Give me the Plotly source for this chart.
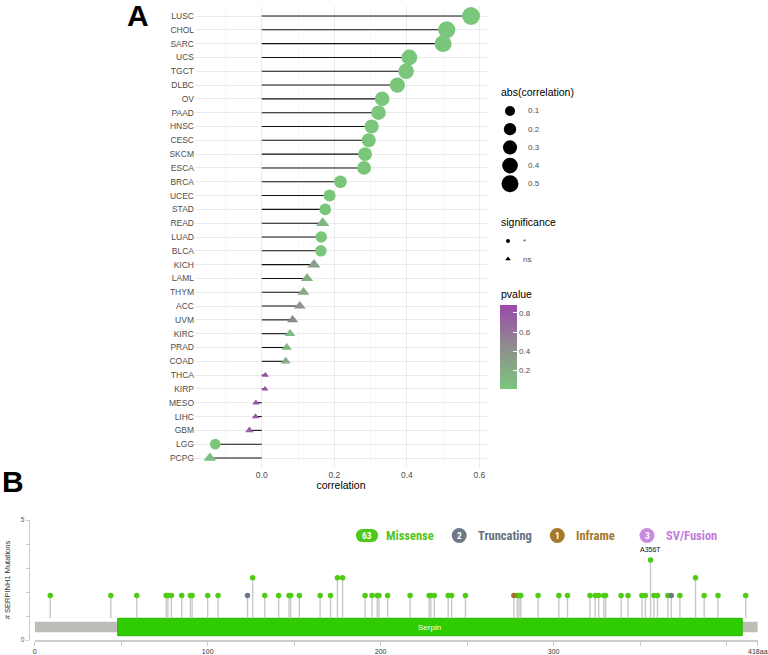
import plotly.graph_objects as go
import numpy as np

W, H = 768, 655

# ---------------- Panel A data ----------------
cancers = ["LUSC", "CHOL", "SARC", "UCS", "TGCT", "DLBC", "OV", "PAAD", "HNSC", "CESC",
           "SKCM", "ESCA", "BRCA", "UCEC", "STAD", "READ", "LUAD", "BLCA", "KICH", "LAML",
           "THYM", "ACC", "UVM", "KIRC", "PRAD", "COAD", "THCA", "KIRP", "MESO", "LIHC",
           "GBM", "LGG", "PCPG"]
correlation = [0.577, 0.510, 0.500, 0.407, 0.398, 0.374, 0.332, 0.322, 0.303, 0.295,
               0.285, 0.282, 0.217, 0.187, 0.175, 0.168, 0.164, 0.163, 0.144, 0.125,
               0.115, 0.105, 0.085, 0.078, 0.069, 0.066, 0.010, 0.009, -0.016, -0.017,
               -0.034, -0.128, -0.143]
pvalue = [0.000, 0.002, 0.000, 0.002, 0.000, 0.010, 0.000, 0.000, 0.000, 0.000,
          0.000, 0.000, 0.000, 0.010, 0.000, 0.130, 0.000, 0.001, 0.300, 0.150,
          0.220, 0.370, 0.500, 0.090, 0.120, 0.200, 0.880, 0.860, 0.820, 0.800,
          0.700, 0.003, 0.060]
significance = ["*", "*", "*", "*", "*", "*", "*", "*", "*", "*",
                "*", "*", "*", "*", "*", "ns", "*", "*", "ns", "ns",
                "ns", "ns", "ns", "ns", "ns", "ns", "ns", "ns", "ns", "ns",
                "ns", "*", "ns"]
size_legend_values = [0.1, 0.2, 0.3, 0.4, 0.5]
size_legend_labels = ["0.1", "0.2", "0.3", "0.4", "0.5"]
sig_legend_labels = ["*", "ns"]
x_ticks_A = [0.0, 0.2, 0.4, 0.6]
x_ticklabels_A = ["0.0", "0.2", "0.4", "0.6"]
pvalue_ticks = [0.2, 0.4, 0.6, 0.8]

# ---------------- Panel B data ----------------
protein_length = 418
domain_name = "Serpin"
domain_start, domain_end = 48, 409
missense_pos = [9, 44, 59, 76, 77, 79, 85, 90, 91, 100, 106, 126, 133, 141, 147, 148, 153,
                165, 171, 175, 178, 191, 195, 198, 199, 204, 217, 228, 229, 231, 239, 241,
                249, 279, 280, 281, 291, 303, 308, 321, 324, 326, 329, 330, 339, 343, 351,
                353, 356, 358, 360, 366, 373, 382, 387, 395, 411]
missense_cnt = [1, 1, 1, 1, 1, 1, 1, 1, 1, 1, 1, 2, 1, 1, 1, 1, 1,
                1, 1, 2, 2, 1, 1, 1, 1, 1, 1, 1, 1, 1, 1, 1,
                1, 1, 1, 1, 1, 1, 1, 1, 1, 1, 1, 1, 1, 1, 1,
                1, 3, 1, 1, 1, 1, 2, 1, 1, 1]
truncating_pos = [123, 368]
truncating_cnt = [1, 1]
inframe_pos = [277]
inframe_cnt = [1]
hotspot_label = "A356T"
hotspot_pos, hotspot_cnt = 356, 3
legend_types = ["Missense", "Truncating", "Inframe", "SV/Fusion"]
legend_counts = [63, 2, 1, 3]
legend_fill = ["#4FC81C", "#6E7987", "#A67A2C", "#C98BDF"]
legend_text_col = ["#53C41D", "#66717F", "#A4772A", "#C27CDB"]
x_ticks_B = [0, 50, 100, 150, 200, 250, 300, 350, 400, 418]
x_ticklabels_B = ["0", "", "100", "", "200", "", "300", "", "", "418aa"]
y_ticks_B = [0, 1, 2, 3, 4, 5]
y_ticklabels_B = ["0", "", "", "", "", "5"]

FONT = "Liberation Sans, Arial, sans-serif"
NARROW = "Liberation Sans Narrow, Arial Narrow, Roboto Condensed, sans-serif"


def fx(px):
    return px / W


def fy(py):
    return 1 - py / H


def msize(v):
    return 4.3 + 17.9 * np.sqrt(abs(v))


CSCALE = [[0.0, "#7AC77B"], [0.5, "#8F8D8F"], [1.0, "#9B4AAA"]]
CMIN, CMAX = 0.0, 0.88

fig = go.Figure()

# ---- Panel A: lollipop stems
lx, ly = [], []
for c, v in zip(cancers, correlation):
    lx += [0, v, None]
    ly += [c, c, None]
fig.add_trace(go.Scatter(x=lx, y=ly, mode="lines", line=dict(color="#111111", width=1.1),
                         hoverinfo="skip", xaxis="x", yaxis="y"))

for sig, sym, show in [("*", "circle", True), ("ns", "triangle-up", False)]:
    idx = [i for i, s in enumerate(significance) if s == sig]
    fig.add_trace(go.Scatter(
        x=[correlation[i] for i in idx], y=[cancers[i] for i in idx], mode="markers",
        marker=dict(symbol=sym, size=[msize(correlation[i]) for i in idx],
                    color=[pvalue[i] for i in idx], colorscale=CSCALE, cmin=CMIN, cmax=CMAX,
                    line=dict(width=0), opacity=1,
                    showscale=show,
                    colorbar=dict(x=fx(500), xanchor="left", y=fy(389.3), yanchor="bottom",
                                  len=84.3 / H, lenmode="fraction", thickness=17,
                                  thicknessmode="pixels", outlinewidth=0, xpad=0, ypad=0,
                                  ticks="inside", ticklen=4, tickcolor="white",
                                  tickvals=pvalue_ticks, tickfont=dict(size=8, color="#4D4D4D", family=FONT))),
        xaxis="x", yaxis="y", hoverinfo="skip"))

# ---- Panel A legend (size & shape) on helper axes
fig.add_trace(go.Scatter(x=[510] * len(size_legend_values),
                         y=[111 + 18.2 * i for i in range(len(size_legend_values))],
                         mode="markers",
                         marker=dict(size=[msize(v) for v in size_legend_values], color="#000000",
                                     opacity=1, line=dict(width=0)),
                         xaxis="x3", yaxis="y3", hoverinfo="skip"))
fig.add_trace(go.Scatter(x=[508, 508], y=[241, 259], mode="markers",
                         marker=dict(symbol=["circle", "triangle-up"], size=[4, 5], color="#000000",
                                     opacity=1, line=dict(width=0)),
                         xaxis="x3", yaxis="y3", hoverinfo="skip"))

annotations = []
for i, lab in enumerate(size_legend_labels):
    annotations.append(dict(x=526, y=111 + 18.2 * i, xref="x3", yref="y3", text=lab, showarrow=False,
                            xanchor="left", yanchor="middle", font=dict(size=8, color="#4D4D4D", family=FONT)))
for i, lab in enumerate(sig_legend_labels):
    annotations.append(dict(x=521, y=241 + 18 * i, xref="x3", yref="y3", text=lab, showarrow=False,
                            xanchor="left", yanchor="middle", font=dict(size=8, color="#4D4D4D", family=FONT)))
for txt, yy in [("abs(correlation)", 92), ("significance", 222), ("pvalue", 294)]:
    annotations.append(dict(x=499, y=yy, xref="x3", yref="y3", text=txt, showarrow=False,
                            xanchor="left", yanchor="middle", font=dict(size=10.5, color="black", family=FONT)))

# ---- Panel B: stems and heads
DOM_TOP, DOM_BOT = -0.281, -1.258
BB_TOP, BB_BOT = -0.472, -1.067
sx, sy = [], []
for p, c in zip(missense_pos + truncating_pos + inframe_pos,
                missense_cnt + truncating_cnt + inframe_cnt):
    sx += [p, p, None]
    sy += [DOM_TOP, c, None]
fig.add_trace(go.Scatter(x=sx, y=sy, mode="lines", line=dict(color="#C8C8C8", width=1.4),
                         xaxis="x2", yaxis="y2", hoverinfo="skip"))
for pos, cnt, col in [(missense_pos, missense_cnt, "#4FCB12"),
                      (truncating_pos, truncating_cnt, "#6E7987"),
                      (inframe_pos, inframe_cnt, "#A0702A")]:
    fig.add_trace(go.Scatter(x=pos, y=cnt, mode="markers",
                             marker=dict(size=5.5, color=col, line=dict(width=0)),
                             xaxis="x2", yaxis="y2", hoverinfo="skip", cliponaxis=False))
# dummy trace to render the count axis
fig.add_trace(go.Scatter(x=[0], y=[0], mode="markers", marker=dict(opacity=0),
                         xaxis="x2", yaxis="y4", hoverinfo="skip"))

shapes = [
    dict(type="rect", xref="x2", yref="y2", x0=0, x1=protein_length, y0=BB_BOT, y1=BB_TOP,
         fillcolor="#BDBDB7", line=dict(width=0), layer="below"),
    dict(type="rect", xref="x2", yref="y2", x0=domain_start, x1=domain_end, y0=DOM_BOT, y1=DOM_TOP,
         fillcolor="#2ECC00", line=dict(width=1, color="#28B000"), layer="below"),
]
annotations.append(dict(x=(domain_start + domain_end) / 2, y=(DOM_TOP + DOM_BOT) / 2, xref="x2",
                        yref="y2", text=domain_name, showarrow=False, xanchor="center", yanchor="middle",
                        font=dict(size=8, color="white", family=FONT)))
annotations.append(dict(x=hotspot_pos, y=hotspot_cnt, xref="x2", yref="y2", text=hotspot_label,
                        showarrow=False, yshift=10, xanchor="center", yanchor="middle",
                        font=dict(size=7, color="#111", family=FONT)))

# ---- Panel B legend (pills + labels)
centers = [367, 459.2, 557.3, 647]
label_x = [383.5, 475.5, 573.5, 663.5]
cy = 535.5
for i, (t, n) in enumerate(zip(legend_types, legend_counts)):
    if i == 0:
        r = 6.6
        shapes.append(dict(type="rect", xref="paper", yref="paper", x0=fx(centers[i] - 4.5),
                           x1=fx(centers[i] + 4.5), y0=fy(cy + r), y1=fy(cy - r),
                           fillcolor=legend_fill[i], line=dict(width=0)))
        for cx in [centers[i] - 4.5, centers[i] + 4.5]:
            shapes.append(dict(type="circle", xref="paper", yref="paper", x0=fx(cx - r), x1=fx(cx + r),
                               y0=fy(cy + r), y1=fy(cy - r), fillcolor=legend_fill[i], line=dict(width=0)))
    else:
        r = 7.5
        shapes.append(dict(type="circle", xref="paper", yref="paper", x0=fx(centers[i] - r),
                           x1=fx(centers[i] + r), y0=fy(cy + r), y1=fy(cy - r),
                           fillcolor=legend_fill[i], line=dict(width=0)))
    annotations.append(dict(x=fx(centers[i]), y=fy(cy), xref="paper", yref="paper", text=str(n),
                            showarrow=False, xanchor="center", yanchor="middle",
                            font=dict(size=9.5, color="white", family=NARROW, weight="bold")))
    annotations.append(dict(x=fx(label_x[i]), y=fy(cy - 0.5), xref="paper", yref="paper", text=t,
                            showarrow=False, xanchor="left", yanchor="middle",
                            font=dict(size=12.5, color=legend_text_col[i], family=NARROW, weight="bold")))

# ---- Panel letters
annotations.append(dict(x=fx(138), y=fy(15), xref="paper", yref="paper", text="A", showarrow=False,
                        xanchor="center", yanchor="middle",
                        font=dict(size=30, color="black", family=FONT, weight="bold")))
annotations.append(dict(x=fx(13), y=fy(481), xref="paper", yref="paper", text="B", showarrow=False,
                        xanchor="center", yanchor="middle",
                        font=dict(size=30, color="black", family=FONT, weight="bold")))

fig.update_layout(
    width=W, height=H, margin=dict(l=0, r=0, t=0, b=0, autoexpand=False),
    paper_bgcolor="white", plot_bgcolor="rgba(0,0,0,0)", showlegend=False,
    font=dict(family=FONT),
    xaxis=dict(domain=[fx(195), fx(487)], range=[-0.184, 0.621], anchor="y", automargin=False,
               tickvals=x_ticks_A, ticktext=x_ticklabels_A, showgrid=True, gridcolor="#EBEBEB",
               gridwidth=1, minor=dict(tickvals=[-0.1, 0.1, 0.3, 0.5], showgrid=True,
                                       gridcolor="#F3F3F3", gridwidth=0.6),
               zeroline=False, showline=False, ticks="",
               tickfont=dict(size=8.5, color="#4D4D4D"),
               title=dict(text="correlation", font=dict(size=10.5, color="black"), standoff=2)),
    yaxis=dict(domain=[fy(468), fy(6)], anchor="x", type="category", automargin=False,
               categoryorder="array", categoryarray=cancers[::-1],
               range=[-0.724, len(cancers) - 1 + 0.724], showgrid=True, gridcolor="#EBEBEB",
               gridwidth=1, zeroline=False, showline=False, ticks="",
               tickfont=dict(size=8.5, color="#4D4D4D")),
    xaxis2=dict(domain=[fx(34.7), fx(757.8)], range=[0, protein_length], anchor="y2", automargin=False,
                showline=True, linecolor="#CCCCCC", linewidth=1.5, ticks="outside", ticklen=4,
                tickcolor="#CCCCCC", tickvals=x_ticks_B, ticktext=x_ticklabels_B,
                tickfont=dict(size=7, color="#333333"), showgrid=False, zeroline=False),
    yaxis2=dict(domain=[fy(640), fy(520)], range=[(613.3 - 640) / 17.8, (613.3 - 520) / 17.8],
                anchor="x2", visible=False, automargin=False),
    yaxis4=dict(domain=[fy(613.3), fy(524.3)], range=[0, 5], overlaying="y2", anchor="free",
                position=fx(28.7), side="left", showline=True, linecolor="#CCCCCC", ticks="outside",
                ticklen=3, tickcolor="#CCCCCC", tickvals=y_ticks_B, ticktext=y_ticklabels_B, automargin=False,
                tickfont=dict(size=6.5, color="#555555"), showgrid=False, zeroline=False,
                title=dict(text="# SERPINH1 Mutations", font=dict(size=7.5, color="#333333"), standoff=8)),
    xaxis3=dict(domain=[fx(490), fx(700)], range=[490, 700], visible=False, anchor="y3", automargin=False),
    yaxis3=dict(domain=[fy(400), fy(80)], range=[400, 80], visible=False, anchor="x3", automargin=False),
    shapes=shapes, annotations=annotations,
)

fig.write_html("out.html", config={"displayModeBar": False, "staticPlot": True},
               post_script="document.body.style.margin='0';document.body.style.overflow='hidden';")
